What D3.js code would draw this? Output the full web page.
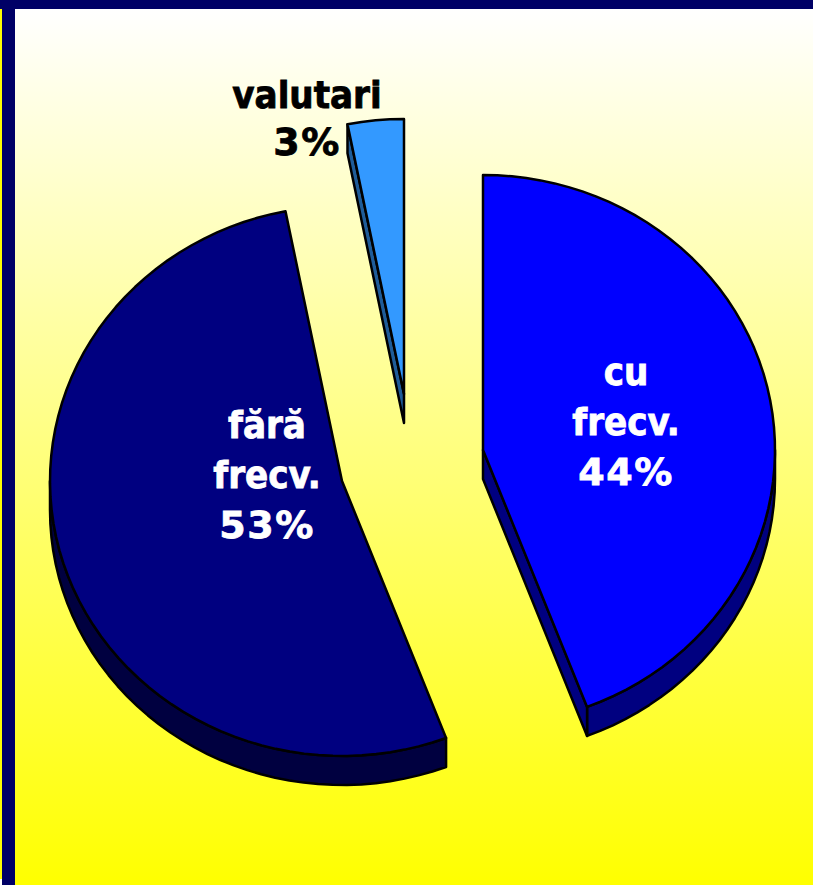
<!DOCTYPE html>
<html>
<head>
<meta charset="utf-8">
<script src="https://cdn.jsdelivr.net/npm/d3@7"></script>
<style>
  html, body { margin: 0; padding: 0; background: #fff; overflow: hidden; }
  svg { display: block; }
  text { font-family: "DejaVu Sans Condensed", "DejaVu Sans", sans-serif; font-stretch: condensed; font-weight: bold; font-size: 38px; text-anchor: middle; stroke-width: 0.8px; }
  /* percent lines run wider than the words in the original font */
  tspan.pct { font-family: "DejaVu Sans", sans-serif; font-stretch: normal; letter-spacing: 1.5px; }
</style>
</head>
<body>
<div id="chart"></div>
<script>
// chart values, read from the slice edges (the printed labels are rounded)
var categories = ["cu frecv.", "fără frecv.", "valutari"];
var shares = [44.2, 52.7, 3.1];
var labelLines = [["cu", "frecv.", "44%"], ["fără", "frecv.", "53%"], ["valutari", "3%"]];

var width = 813, height = 885;
var radiusX = 292, radiusY = 275, depth = 29;

// exploded pie: where each slice's tip sits, and its colours
var tips = [[483, 450], [342, 481], [404, 394]];
var topColors = ["#0000ff", "#000080", "#3399ff"];
var wallColors = ["#000080", "#000040", "#1f5c99"];
var labelColors = ["#fff", "#fff", "#000"];
var labelAnchors = [[626, 385], [267, 438], [307, 108]];
var lineStep = [50, 50, 47];

var svg = d3.select("#chart").append("svg")
  .attr("width", width)
  .attr("height", height);

var grad = svg.append("defs").append("linearGradient")
  .attr("id", "bg").attr("x1", 0).attr("y1", 0).attr("x2", 0).attr("y2", 1);
grad.append("stop").attr("offset", 0).attr("stop-color", "#ffffff");
grad.append("stop").attr("offset", 1).attr("stop-color", "#ffff00");

// slide background and frame
svg.append("rect").attr("width", width).attr("height", height).attr("fill", "#fff");
svg.append("rect").attr("x", 0).attr("y", 9).attr("width", 2).attr("height", 870).attr("fill", "#ffff00");
svg.append("rect").attr("x", 2).attr("y", 0).attr("width", 13).attr("height", height).attr("fill", "#000066");
svg.append("rect").attr("x", 0).attr("y", 0).attr("width", width).attr("height", 9).attr("fill", "#000066");
svg.append("rect").attr("x", 15).attr("y", 9).attr("width", width - 15).attr("height", height - 9).attr("fill", "url(#bg)");

var pie = d3.pie().sort(null).value(function(d) { return d; });
var slices = pie(shares);

var line = d3.line();

function rimPoint(angle, tip, drop) {
  return [tip[0] + radiusX * Math.sin(angle), tip[1] - radiusY * Math.cos(angle) + drop];
}

function rim(from, to, tip, drop) {
  var n = Math.max(2, Math.ceil((to - from) / 0.05));
  return d3.range(n + 1).map(function(i) {
    return rimPoint(from + (to - from) * i / n, tip, drop);
  });
}

var groups = svg.selectAll(".slice")
  .data(slices)
  .enter().append("g")
  .attr("class", "slice");

groups.each(function(d, i) {
  var g = d3.select(this);
  var tip = tips[i];

  // outer wall, only the part of the rim facing the viewer
  var from = Math.max(d.startAngle, Math.PI / 2);
  var to = Math.min(d.endAngle, Math.PI * 3 / 2);
  if (to > from) {
    var upper = rim(from, to, tip, 0);
    var lower = rim(from, to, tip, depth).reverse();
    g.append("path")
      .attr("d", line(upper.concat(lower)) + "Z")
      .attr("fill", wallColors[i]);
  }

  // cut faces that look down toward the viewer
  [d.startAngle, d.endAngle].forEach(function(a, k) {
    var s = Math.sin(a);
    var facing = k === 0 ? s < -1e-6 : s > 1e-6;
    if (!facing) return;
    var end = rimPoint(a, tip, 0);
    var face = [tip, end, [end[0], end[1] + depth], [tip[0], tip[1] + depth]];
    g.append("path").attr("d", line(face) + "Z").attr("fill", wallColors[i]);
  });

  g.selectAll("path")
    .attr("stroke", "#000")
    .attr("stroke-width", 2.5)
    .attr("stroke-linejoin", "round");

  g.append("path")
    .attr("d", line([tip].concat(rim(d.startAngle, d.endAngle, tip, 0))) + "Z")
    .attr("fill", topColors[i])
    .attr("stroke", "#000")
    .attr("stroke-width", 2.5)
    .attr("stroke-linejoin", "round");
});

// labels
labelLines.forEach(function(lines, i) {
  svg.append("text")
    .attr("fill", labelColors[i])
    .attr("stroke", labelColors[i])
    .selectAll("tspan")
    .data(lines)
    .enter().append("tspan")
    .attr("class", function(d) { return d.indexOf("%") >= 0 ? "pct" : null; })
    .attr("x", labelAnchors[i][0])
    .attr("y", function(d, k) { return labelAnchors[i][1] + k * lineStep[i]; })
    .text(function(d) { return d; });
});
</script>
</body>
</html>
